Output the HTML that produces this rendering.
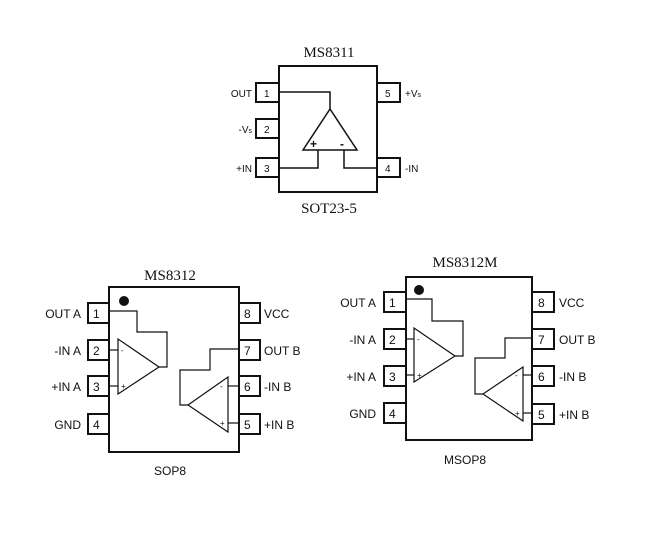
<!DOCTYPE html>
<html><head><style>body{margin:0;background:#fff}svg{display:block}</style></head><body>
<svg width="670" height="543" viewBox="0 0 670 543" xmlns="http://www.w3.org/2000/svg">
<rect width="670" height="543" fill="#fff"/>
<g fill="none" stroke="#111" stroke-width="2">
<rect x="279" y="66" width="98" height="126"/>
<rect x="256" y="83" width="23" height="19"/><rect x="256" y="119" width="23" height="19"/><rect x="256" y="158" width="23" height="19"/>
<rect x="377" y="83" width="23" height="19"/><rect x="377" y="158" width="23" height="19"/>
</g>
<g fill="none" stroke="#111" stroke-width="1.5">
<polygon points="330,109 303,150 357,150"/>
<polyline points="279,92 330,92 330,109"/>
<polyline points="318,150 318,168 279,168"/>
<polyline points="344,150 344,168 377,168"/>
</g>
<g font-family="Liberation Sans, sans-serif" font-size="10" fill="#111">
<text x="310" y="148" font-size="12" font-weight="bold">+</text><text x="340" y="148" font-size="12" font-weight="bold">-</text>
<text x="264" y="97">1</text><text x="264" y="133">2</text><text x="264" y="172">3</text>
<text x="385" y="97">5</text><text x="385" y="172">4</text>
<text x="252" y="97" text-anchor="end">OUT</text><text x="252" y="133" text-anchor="end">-V<tspan font-size="7">s</tspan></text><text x="252" y="172" text-anchor="end">+IN</text>
<text x="405" y="97">+V<tspan font-size="7">s</tspan></text><text x="405" y="172">-IN</text>
</g>
<g font-family="Liberation Serif, serif" font-size="15" fill="#111" text-anchor="middle">
<text x="329" y="57">MS8311</text><text x="329" y="213">SOT23-5</text>
<text x="170" y="280">MS8312</text><text x="465" y="267">MS8312M</text>
</g>
<!-- SOP8 -->
<g fill="none" stroke="#111" stroke-width="2">
<rect x="109" y="287" width="130" height="165"/>
<rect x="88" y="303" width="21" height="20"/><rect x="88" y="340" width="21" height="20"/><rect x="88" y="376" width="21" height="20"/><rect x="88" y="414" width="21" height="20"/>
<rect x="239" y="303" width="21" height="20"/><rect x="239" y="340" width="21" height="20"/><rect x="239" y="376" width="21" height="20"/><rect x="239" y="414" width="21" height="20"/>
</g>
<circle cx="124" cy="301" r="5" fill="#111"/>
<g fill="none" stroke="#111" stroke-width="1.2">
<polygon points="118,339 118,394 159,367"/>
<polyline points="109,311 137,311 137,332 167,332 167,367 159,367"/>
<line x1="109" y1="350" x2="118" y2="350"/><line x1="109" y1="386" x2="118" y2="386"/>
<polygon points="228,377 228,432 188,405"/>
<polyline points="188,405 180,405 180,370 210,370 210,349 239,349"/>
<line x1="228" y1="386" x2="239" y2="386"/><line x1="228" y1="423" x2="239" y2="423"/>
</g>
<!-- MSOP8 -->
<g fill="none" stroke="#111" stroke-width="2">
<rect x="406" y="277" width="126" height="163"/>
<rect x="384" y="292" width="22" height="20"/><rect x="384" y="329" width="22" height="20"/><rect x="384" y="366" width="22" height="20"/><rect x="384" y="403" width="22" height="20"/>
<rect x="532" y="292" width="22" height="20"/><rect x="532" y="329" width="22" height="20"/><rect x="532" y="366" width="22" height="20"/><rect x="532" y="404" width="22" height="20"/>
</g>
<circle cx="419" cy="290" r="5" fill="#111"/>
<g fill="none" stroke="#111" stroke-width="1.2">
<polygon points="414,328 414,382 455,356"/>
<polyline points="406,299 432,299 432,321 463,321 463,356 455,356"/>
<line x1="406" y1="339" x2="414" y2="339"/><line x1="406" y1="375" x2="414" y2="375"/>
<polygon points="523,367 523,421 483,394"/>
<polyline points="483,394 475,394 475,358 505,358 505,338 532,338"/>
<line x1="523" y1="375" x2="532" y2="375"/><line x1="523" y1="413" x2="532" y2="413"/>
</g>
<g font-family="Liberation Sans, sans-serif" font-size="8" fill="#111">
<text x="121" y="353">-</text><text x="121" y="389">+</text><text x="220" y="389">-</text><text x="220" y="426">+</text>
<text x="417" y="342">-</text><text x="417" y="378">+</text><text x="515" y="378">-</text><text x="515" y="416">+</text>
</g>
<g font-family="Liberation Sans, sans-serif" font-size="12" fill="#111">
<text x="93" y="318">1</text><text x="93" y="355">2</text><text x="93" y="391">3</text><text x="93" y="429">4</text>
<text x="244" y="318">8</text><text x="244" y="355">7</text><text x="244" y="391">6</text><text x="244" y="429">5</text>
<g text-anchor="end"><text x="81" y="318">OUT A</text><text x="81" y="355">-IN A</text><text x="81" y="391">+IN A</text><text x="81" y="429">GND</text></g>
<text x="264" y="318">VCC</text><text x="264" y="355">OUT B</text><text x="264" y="391">-IN B</text><text x="264" y="429">+IN B</text>
<text x="170" y="475" text-anchor="middle">SOP8</text>
<text x="389" y="307">1</text><text x="389" y="344">2</text><text x="389" y="381">3</text><text x="389" y="418">4</text>
<text x="538" y="307">8</text><text x="538" y="344">7</text><text x="538" y="381">6</text><text x="538" y="419">5</text>
<g text-anchor="end"><text x="376" y="307">OUT A</text><text x="376" y="344">-IN A</text><text x="376" y="381">+IN A</text><text x="376" y="418">GND</text></g>
<text x="559" y="307">VCC</text><text x="559" y="344">OUT B</text><text x="559" y="381">-IN B</text><text x="559" y="419">+IN B</text>
<text x="465" y="464" text-anchor="middle">MSOP8</text>
</g>
</svg>
</body></html>
